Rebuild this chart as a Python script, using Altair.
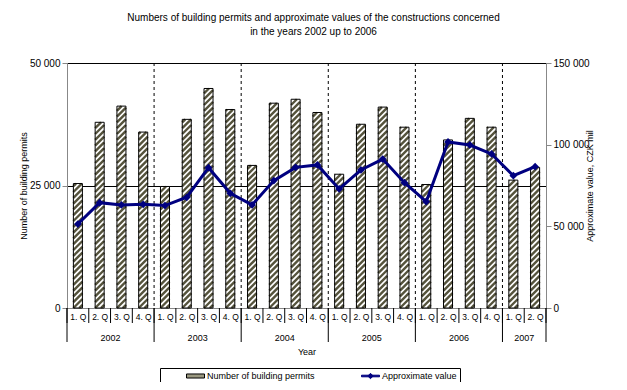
import json
import altair as alt
import numpy as np
import pandas as pd

TITLE_LINES = ["Numbers of building permits and approximate values of the constructions concerned",
               "in  the years 2002 up to 2006"]
YEAR_LABELS = ["2002", "2003", "2004", "2005", "2006", "2007"]
QUARTERS_PER_YEAR = [4, 4, 4, 4, 4, 2]
QUARTER_LABELS = ["1. Q", "2. Q", "3. Q", "4. Q"]
PERMITS = [25400, 37900, 41200, 35900, 24800, 38500, 44800, 40500, 29100, 41800, 42600,
           39900, 27300, 37500, 41000, 36900, 25200, 34300, 38700, 36900, 26100, 28700]
VALUES = [51400, 64500, 63100, 63500, 62700, 67800, 85900, 70200, 63100, 78000, 86100,
          87600, 72900, 84500, 91200, 76700, 65100, 101700, 99800, 94300, 81000, 86500]
SERIES = ["Number of building permits", "Approximate value"]
LEFT_TICKS = [0, 25000, 50000]
RIGHT_TICKS = [0, 50000, 100000, 150000]
X_TITLE = "Year"
LEFT_TITLE = "Number of building permits"
RIGHT_TITLE = "Approximate value, CZK mil"

FONT = "Liberation Sans"
W, H = 479, 245
N = len(PERMITS)
HALF = 0.207          # half bar width, in category units
STRIPE = "#55533c"
NAVY = "#000080"
SPACE_FMT = "replace(format(datum.value, ','), ',', ' ')"

years = [y for y, n in zip(YEAR_LABELS, QUARTERS_PER_YEAR) for _ in range(n)]
quarters = [QUARTER_LABELS[k] for n in QUARTERS_PER_YEAR for k in range(n)]
df = pd.DataFrame({"idx": np.arange(N), "year": years, "quarter": quarters,
                   "permits": PERMITS, "value": VALUES})

edges = np.concatenate([[0], np.cumsum(QUARTERS_PER_YEAR)]) - 0.5
year_edges = pd.DataFrame({"b": edges})
inner_edges = pd.DataFrame({"b": edges[1:-1]})
q_edges = pd.DataFrame({"b": np.arange(N + 1) - 0.5})

# diagonal hatch segments derived from each bar's value
px_x = W / N
px_y = H / LEFT_TICKS[-1]
rise = 2 * HALF * px_x / px_y
gap = 5.8 / px_y
rows = []
for i, v in enumerate(PERMITS):
    for s in np.arange(-np.ceil(rise / gap) * gap, v, gap):
        ya, yb = s, s + rise
        xa, xb = i - HALF, i + HALF
        if ya < 0:
            xa = i - HALF + (0 - s) / rise * 2 * HALF
            ya = 0
        if yb > v:
            xb = i - HALF + (v - s) / rise * 2 * HALF
            yb = v
        if yb > ya:
            rows.append({"xa": xa, "xb": xb, "ya": ya, "yb": yb})
stripes_df = pd.DataFrame(rows)

xscale = alt.Scale(domain=[-0.5, N - 0.5], nice=False, zero=False)
xaxis = alt.Axis(values=list(range(N)), labelExpr=json.dumps(quarters) + "[datum.value]",
                 ticks=False, tickSize=0, labelPadding=4, labelFontSize=8.5, title=X_TITLE,
                 titlePadding=27, titleFontWeight="normal", titleFontSize=9,
                 grid=False, labelAngle=0, labelFlush=False, labelOverlap=False)


def X(f):
    return alt.X(f, type="quantitative", scale=xscale, axis=xaxis)


yl_scale = alt.Scale(domain=[LEFT_TICKS[0], LEFT_TICKS[-1]], nice=False)
yl_axis = alt.Axis(values=LEFT_TICKS, labelExpr=SPACE_FMT, title=LEFT_TITLE, grid=True,
                   gridColor="black", gridWidth=1, gridOpacity=1, tickSize=5, labelPadding=2,
                   titlePadding=1, titleFontWeight="normal", titleFontSize=9)


def YL(f):
    return alt.Y(f, type="quantitative", scale=yl_scale, axis=yl_axis)


yr_scale = alt.Scale(domain=[RIGHT_TICKS[0], RIGHT_TICKS[-1]], nice=False)
yr_axis = alt.Axis(values=RIGHT_TICKS, labelExpr=SPACE_FMT, title=RIGHT_TITLE, grid=False,
                   orient="right", tickSize=5, labelPadding=2, titlePadding=5, titleAngle=270,
                   titleFontWeight="normal", titleFontSize=9)

bars_bg = alt.Chart(df).mark_bar(fill="white", strokeWidth=0).transform_calculate(
    xl=f"datum.idx - {HALF}", xr=f"datum.idx + {HALF}"
).encode(x=X("xl"), x2="xr", y=YL("permits"), y2=alt.datum(0))

stripes = alt.Chart(stripes_df).mark_rule(stroke=STRIPE, strokeWidth=2.4).encode(
    x=X("xa"), x2="xb", y=YL("ya"), y2="yb")

outline = alt.Chart(df).mark_bar(fillOpacity=0, stroke="black", strokeWidth=1).transform_calculate(
    xl=f"datum.idx - {HALF}", xr=f"datum.idx + {HALF}"
).encode(x=X("xl"), x2="xr", y=YL("permits"), y2=alt.datum(0))

dashed = alt.Chart(inner_edges).mark_rule(stroke="black", strokeWidth=1, strokeDash=[3, 3]).encode(
    x=X("b"), y=alt.value(0), y2=alt.value(H))

qsep = alt.Chart(q_edges).mark_rule(stroke="black", strokeWidth=1).encode(
    x=X("b"), y=alt.value(H), y2=alt.value(H + 15))

ysep = alt.Chart(year_edges).mark_rule(stroke="black", strokeWidth=1).encode(
    x=X("b"), y=alt.value(H), y2=alt.value(H + 34))

year_text = alt.Chart(df).mark_text(font=FONT, fontSize=9, color="black", baseline="middle").transform_aggregate(
    center="mean(idx)", groupby=["year"]
).encode(x=X("center"), y=alt.value(H + 30), text="year:N")

left = alt.layer(bars_bg, stripes, outline, dashed, qsep, ysep, year_text)

line = alt.Chart(df).mark_line(color=NAVY, strokeWidth=3).encode(
    x=X("idx"), y=alt.Y("value", type="quantitative", scale=yr_scale, axis=yr_axis))
pts = alt.Chart(df).mark_point(shape="diamond", filled=True, color=NAVY, size=60, opacity=1).encode(
    x=X("idx"), y=alt.Y("value", type="quantitative", scale=yr_scale, axis=yr_axis))
right = alt.layer(line, pts)

RECT_PATH = "M-2,-0.45H2V0.45H-2Z"
LINE_PATH = "M-2,-0.18H2V0.18H-2Z M-0.6,0L0,-0.6L0.6,0L0,0.6Z"
LEG = alt.Legend(orient="none", legendX=93, legendY=305, direction="horizontal", title=None,
                 strokeColor="black", padding=3, symbolSize=81, symbolStrokeWidth=1,
                 labelFont=FONT, labelFontSize=9, labelColor="black", columnPadding=23,
                 labelOffset=6.5, symbolOffset=27.5)
legend_layer = alt.Chart(pd.DataFrame({"series": SERIES})).mark_point(filled=True, opacity=1).encode(
    fill=alt.Fill("series:N", scale=alt.Scale(domain=SERIES, range=["#9a9880", NAVY]), legend=LEG),
    stroke=alt.Stroke("series:N", scale=alt.Scale(domain=SERIES, range=["black", NAVY]), legend=LEG),
    shape=alt.Shape("series:N", scale=alt.Scale(domain=SERIES, range=[RECT_PATH, LINE_PATH]), legend=LEG),
).transform_filter("false")

chart = alt.layer(left, right, legend_layer).resolve_scale(y="independent").properties(
    width=W, height=H, autosize="none",
    padding={"left": 59, "top": 55, "right": 73, "bottom": 74},
    title=alt.TitleParams(text=TITLE_LINES, font=FONT, fontSize=10, fontWeight="normal",
                          color="black", anchor="middle", dx=7, offset=21, lineHeight=14),
).configure_view(stroke="black", strokeWidth=1).configure_axis(
    labelFont=FONT, labelFontSize=9, labelColor="black", titleFont=FONT, titleFontSize=9,
    titleFontWeight="normal", titleColor="black", domainColor="black", tickColor="black",
).configure(background="white")

chart.save("out.html", embed_options={"renderer": "svg", "actions": False})
